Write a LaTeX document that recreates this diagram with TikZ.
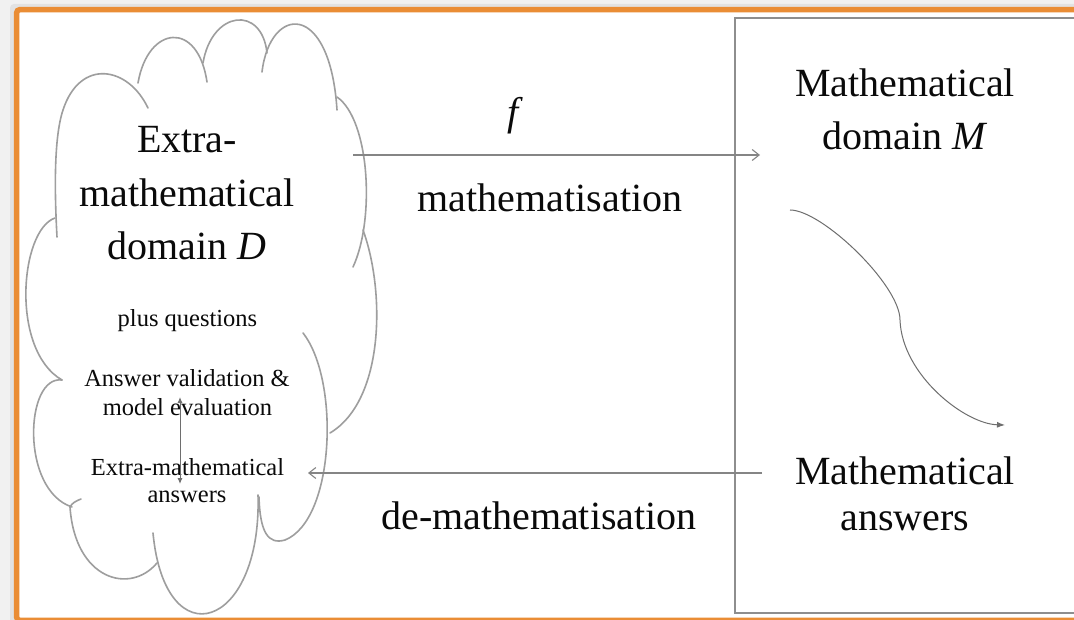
\documentclass[tikz,border=0pt]{standalone}
\usepackage{fontspec}
\setmainfont{Liberation Serif}
\usetikzlibrary{arrows.meta}
\definecolor{frameorange}{HTML}{EA8D35}
\definecolor{bggray}{HTML}{F1F1F1}
\definecolor{shadowgray}{HTML}{E2E2E2}
\definecolor{cloudgray}{HTML}{9E9E9E}
\definecolor{boxgray}{HTML}{8E8E8E}
\definecolor{arrowgray}{HTML}{858585}
\definecolor{darkarrow}{HTML}{6E6E6E}
\definecolor{textblack}{HTML}{0A0A0A}
\begin{document}
\begin{tikzpicture}[x=1pt,y=-1pt,
  cloudline/.style={draw=cloudgray,line width=1.6pt,line cap=round},
  bigtext/.style={font=\fontsize{40}{50}\selectfont,text=textblack,inner sep=0pt,anchor=base},
  smalltext/.style={font=\fontsize{24.5}{28}\selectfont,text=textblack,inner sep=0pt,anchor=base},
  flowarrow/.style={draw=arrowgray,line width=1.1pt,-{Straight Barb[length=7pt,width=11pt,line width=1.1pt]}},
  steparrow/.style={draw=darkarrow,line width=1pt,{Latex[length=6pt,width=5pt]}-{Latex[length=6pt,width=5pt]}},
  curvearrow/.style={draw=darkarrow,line width=1pt,-{Latex[length=8pt,width=6pt]}}]
\useasboundingbox (0,0) rectangle (1074,620);
\clip (0,0) rectangle (1074,620);
\fill[bggray] (0,0) rectangle (1074,620);
\fill[shadowgray,rounded corners=4pt] (10,4) rectangle (1100,630);
% orange frame
\draw[frameorange,line width=5.5pt,fill=white,rounded corners=3pt] (16.7,9.7) rectangle (1100,620.3);
% right box
\draw[boxgray,line width=1.8pt] (735,18) rectangle (1090,613);
% cloud
\draw[cloudline] (148,108) .. controls (128,66) and (80,58) .. (63,110) .. controls (53,140) and (55,200) .. (57,237);
\draw[cloudline] (138,83) .. controls (148,25) and (198,20) .. (207,82);
\draw[cloudline] (203,63) .. controls (212,10) and (262,5) .. (267,53);
\draw[cloudline] (262,72) .. controls (270,5) and (330,0) .. (337,110);
\draw[cloudline] (337,97) .. controls (370,120) and (375,220) .. (353,267);
\draw[cloudline] (363,230) .. controls (385,290) and (385,400) .. (330,433);
\draw[cloudline] (303,333) .. controls (340,380) and (335,520) .. (285,540) .. controls (268,545) and (260,532) .. (259,497);
\draw[cloudline] (258,495) .. controls (262,630) and (165,660) .. (153,533);
\draw[cloudline] (157,563) .. controls (130,595) and (75,580) .. (70,507) .. controls (72,503) and (76,501) .. (81,499);
\draw[cloudline] (62,380) .. controls (25,375) and (20,490) .. (72,507);
\draw[cloudline] (55,218) .. controls (20,230) and (10,350) .. (62,380);
% texts in cloud
\node[bigtext] (d1) at (187,153) {Extra-};
\node[bigtext] (d2) at (187,207) {mathematical};
\node[bigtext] (d3) at (187,260) {domain \textit{D}};
\node[smalltext] (q1) at (187.5,327) {plus questions};
\node[smalltext] (v1) at (187,387) {Answer validation \&};
\node[smalltext] (v2) at (187.5,415) {model evaluation};
\node[smalltext] (e1) at (187.5,475) {Extra-mathematical};
\node[smalltext] (e2) at (187,502) {answers};
% middle labels
\node[bigtext] (f) at (515,126) {\textit{f}};
\node[bigtext] (mlab) at (550,212) {mathematisation};
\node[bigtext] (dlab) at (539,529) {de-mathematisation};
% right box texts
\node[bigtext] (m1) at (905,97) {Mathematical};
\node[bigtext] (m2) at (905,150) {domain \textit{M}};
\node[bigtext] (a1) at (905,484) {Mathematical};
\node[bigtext] (a2) at (905,530) {answers};
% connector ends
\coordinate (mathStart) at (353,155);
\coordinate (mathEnd) at (760,155);
\coordinate (demStart) at (762,473);
\coordinate (demEnd) at (308,473);
\coordinate (vTop) at (180,397);
\coordinate (vBot) at (180,484);
\coordinate (cStart) at (790,210);
\coordinate (cMid) at (900,320);
\coordinate (cEnd) at (1005,425);
% connectors
\draw[flowarrow] (mathStart) -- (mathEnd);
\draw[flowarrow] (demStart) -- (demEnd);
\draw[steparrow] (vTop) -- (vBot);
\draw[curvearrow] (cStart) .. controls (822,210) and (900,285) .. (cMid) .. controls (902,375) and (965,424) .. (cEnd);
\end{tikzpicture}
\end{document}
